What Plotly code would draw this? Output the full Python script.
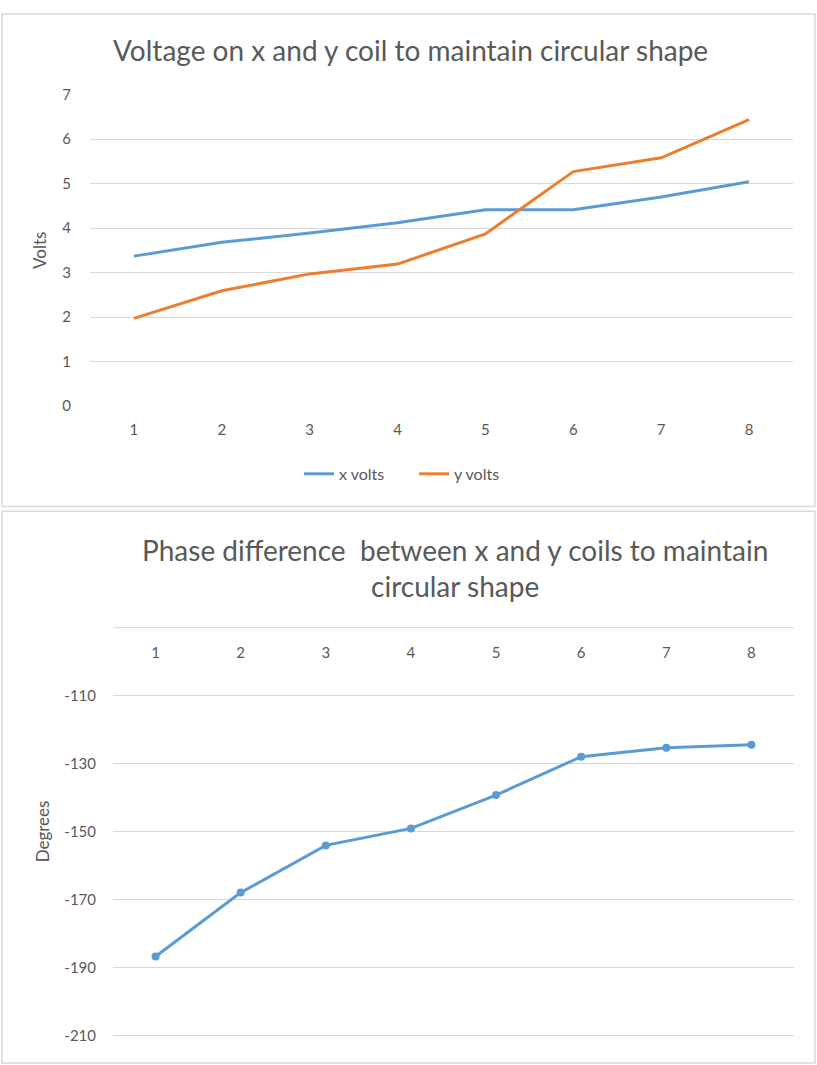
import plotly.graph_objects as go

W, H = 817, 1065

# Data
steps = [1, 2, 3, 4, 5, 6, 7, 8]
x_volts = [3.37, 3.68, 3.89, 4.12, 4.41, 4.41, 4.70, 5.04]
y_volts = [1.97, 2.59, 2.97, 3.19, 3.87, 5.27, 5.58, 6.44]
phase_deg = [-186.8, -168.0, -154.1, -149.1, -139.3, -128.0, -125.4, -124.5]

volt_ticks = [0, 1, 2, 3, 4, 5, 6, 7]
deg_ticks = [-210, -190, -170, -150, -130, -110, -90]
step_labels = [str(s) for s in steps]
volt_labels = [str(v) for v in volt_ticks]
deg_labels = [str(d) for d in deg_ticks]  # plain hyphen-minus

BLUE = "#5B9BD5"
ORANGE = "#ED7D31"
GRID = "#D9D9D9"
TXT = "#595959"
FONT = "Lato"


def px_x(p):
    return p / W


def px_y(p):
    return 1 - p / H


fig = go.Figure()

fig.add_trace(go.Scatter(x=steps, y=x_volts, name="x volts", mode="lines",
                         line=dict(color=BLUE, width=3), xaxis="x", yaxis="y"))
fig.add_trace(go.Scatter(x=steps, y=y_volts, name="y volts", mode="lines",
                         line=dict(color=ORANGE, width=3), xaxis="x", yaxis="y"))
fig.add_trace(go.Scatter(x=steps, y=phase_deg, name="phase", mode="lines+markers",
                         line=dict(color=BLUE, width=3),
                         marker=dict(color=BLUE, size=8),
                         xaxis="x2", yaxis="y2", showlegend=False))

tickfont = dict(family=FONT, size=15, color=TXT)
axis_title_font = dict(family=FONT, size=17, color=TXT)

fig.update_layout(
    width=W, height=H,
    margin=dict(l=0, r=0, t=0, b=0),
    paper_bgcolor="white", plot_bgcolor="white",
    font=dict(family=FONT, color=TXT),
    xaxis=dict(domain=[px_x(90), px_x(793)], anchor="y", range=[0.5, 8.5],
               tickvals=steps, ticktext=step_labels,
               showgrid=False, zeroline=False, showline=False, ticks="",
               tickfont=tickfont, ticklabelstandoff=12),
    yaxis=dict(domain=[px_y(404), px_y(86)], anchor="x", range=[-0.02, 7.02],
               tickvals=volt_ticks, ticktext=volt_labels,
               showgrid=True, gridcolor=GRID, gridwidth=1,
               zeroline=False, showline=False, ticks="",
               tickfont=tickfont, ticklabelstandoff=18,
               title=dict(text="Volts", font=axis_title_font, standoff=11)),
    xaxis2=dict(domain=[px_x(113), px_x(794)], anchor="y2", range=[0.5, 8.5],
                side="top", ticklabelposition="inside",
                tickvals=steps, ticktext=step_labels,
                showgrid=False, zeroline=False, showline=False, ticks="",
                tickfont=tickfont, ticklabelstandoff=18),
    yaxis2=dict(domain=[px_y(1043), px_y(627)], anchor="x2", range=[-210.3, -89.7],
                tickvals=deg_ticks, ticktext=deg_labels,
                showgrid=True, gridcolor=GRID, gridwidth=1,
                zeroline=False, showline=False, ticks="",
                tickfont=tickfont, ticklabelstandoff=16,
                title=dict(text="Degrees", font=axis_title_font, standoff=10)),
    legend=dict(orientation="h", x=px_x(414), xanchor="center",
                y=px_y(472), yanchor="middle",
                font=dict(family=FONT, size=16, color=TXT),
                itemwidth=30, entrywidth=70, bgcolor="rgba(0,0,0,0)"),
    showlegend=True,
)

# Top gridline of the phase chart (sits under the inside category labels)
fig.add_shape(type="line", xref="x2 domain", yref="y2", x0=0, x1=1,
              y0=deg_ticks[-1], y1=deg_ticks[-1],
              line=dict(color=GRID, width=1), layer="below")

# Chart titles
fig.add_annotation(text="Voltage on x and y coil to maintain circular shape",
                   x=px_x(410), y=px_y(42), xref="paper", yref="paper",
                   showarrow=False, xanchor="center", yanchor="middle",
                   font=dict(family=FONT, size=28, color=TXT))
fig.add_annotation(text="Phase difference  between x and y coils to maintain<br>circular shape",
                   x=px_x(455), y=px_y(568), xref="paper", yref="paper",
                   showarrow=False, xanchor="center", yanchor="middle",
                   font=dict(family=FONT, size=28, color=TXT))

# Chart area frames
for (x0, y0, x1, y1) in [(2, 5, 815, 505), (2, 510, 815, 1070)]:
    fig.add_shape(type="rect", xref="paper", yref="paper",
                  x0=px_x(x0), x1=px_x(x1), y0=px_y(y1), y1=px_y(y0),
                  line=dict(color=GRID, width=1.5), fillcolor="rgba(0,0,0,0)",
                  layer="below")

fig.write_html("out.html")
